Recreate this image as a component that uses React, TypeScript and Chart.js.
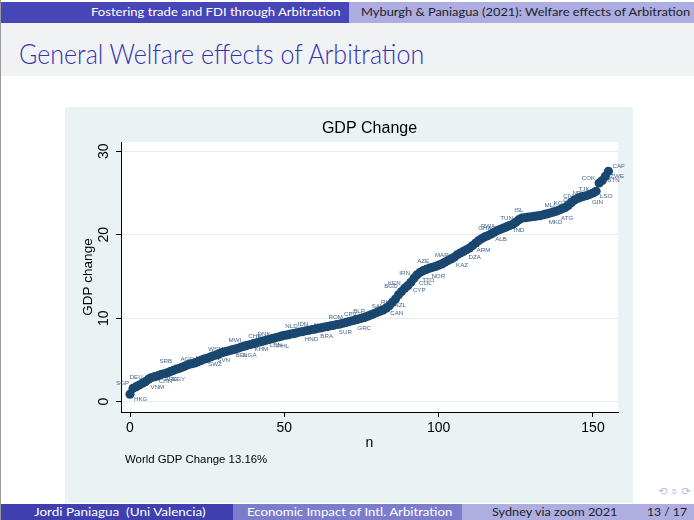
import React, { useEffect, useRef } from 'react';
import { Chart, registerables } from 'chart.js';

Chart.register(...registerables);

// ---- Data -------------------------------------------------------------
// GDP change (%) for each country, sorted; x = rank n (0..155)
const GDP_CHANGE: number[] = [
  0.9, 1.6, 1.8, 2.0, 2.2, 2.4, 2.7, 2.9, 3.0, 3.1,
  3.25, 3.35, 3.45, 3.6, 3.75, 3.9, 4.0, 4.15, 4.3, 4.45,
  4.55, 4.65, 4.8, 4.95, 5.1, 5.2, 5.35, 5.5, 5.6, 5.75,
  5.9, 6.0, 6.1, 6.2, 6.3, 6.4, 6.55, 6.65, 6.75, 6.85,
  6.95, 7.05, 7.15, 7.25, 7.35, 7.45, 7.55, 7.65, 7.75, 7.85,
  7.95, 8.0, 8.1, 8.15, 8.25, 8.35, 8.4, 8.5, 8.55, 8.65,
  8.7, 8.8, 8.85, 8.95, 9.0, 9.1, 9.15, 9.25, 9.3, 9.4,
  9.5, 9.6, 9.7, 9.8, 9.9, 10.0, 10.1, 10.25, 10.4, 10.55,
  10.7, 10.85, 11.0, 11.2, 11.5, 11.9, 12.3, 12.8, 13.2, 13.6,
  13.9, 14.3, 14.8, 15.2, 15.5, 15.7, 15.85, 16.0, 16.1, 16.2,
  16.35, 16.5, 16.7, 16.9, 17.1, 17.3, 17.6, 17.8, 18.0, 18.2,
  18.4, 18.7, 19.0, 19.3, 19.55, 19.75, 19.9, 20.1, 20.3, 20.5,
  20.65, 20.8, 20.95, 21.1, 21.25, 21.5, 21.8, 22.0, 22.05, 22.1,
  22.15, 22.2, 22.25, 22.3, 22.4, 22.5, 22.6, 22.7, 22.8, 22.95,
  23.1, 23.25, 23.5, 23.85, 24.15, 24.35, 24.5, 24.6, 24.7, 24.85,
  25.0, 25.2, 26.2, 26.5, 27.0, 27.6,
];

// country marker labels (rank index, ISO code, Stata clock position)
const LABEL_N: number[] = [
  0, 6, 1, 2, 8, 10, 13, 14, 16, 17,
  20, 25, 24, 27, 34, 38, 41, 33, 36, 39,
  44, 47, 50, 54, 56, 58, 61, 64, 67, 69,
  72, 73, 78, 81, 83, 84, 88, 89, 91, 92,
  93, 94, 95, 97, 101, 105, 109, 111, 115, 116,
  117, 122, 123, 126, 134, 135, 137, 139, 140, 142,
  143, 145, 149, 151, 152, 153, 154, 155,
];
const LABEL_TEXT: string[] = [
  'HKG', 'VNM', 'SGP', 'DEU', 'CHN', 'ARG', 'EGY', 'SRB', 'AGO', 'ITA',
  'MEX', 'WSM', 'SWZ', 'SVN', 'MWI', 'CHE', 'DNK', 'BEL', 'NGA', 'KHM',
  'LBN', 'PHL', 'NLD', 'IDN', 'HND', 'AUT', 'BRA', 'ROM', 'SUR', 'CPV',
  'BLR', 'GRC', 'SAU', 'RUS', 'CAN', 'NZL', 'BGD', 'KEN', 'CYP', 'IRN',
  'COL', 'TTO', 'AZE', 'NOR', 'MAR', 'KAZ', 'DZA', 'ARM', 'GHA', 'RWA',
  'ALB', 'TUN', 'IND', 'ISL', 'MLI', 'MKD', 'KGZ', 'ATG', 'GEO', 'CIV',
  'NPL', 'TJK', 'GIN', 'LSO', 'COK', 'BTN', 'ZWE', 'CAF',
];
const LABEL_POS: number[] = [
  4, 5, 10, 12, 4, 4, 5, 11, 1, 2,
  2, 1, 4, 4, 12, 1, 1, 4, 5, 4,
  4, 5, 1, 1, 5, 2, 5, 1, 5, 1,
  1, 5, 1, 1, 4, 3, 10, 10, 5, 10,
  5, 5, 12, 5, 12, 5, 5, 4, 12, 12,
  4, 12, 4, 12, 1, 5, 1, 5, 1, 12,
  1, 1, 5, 4, 10, 3, 3, 2,
];

const X_TICKS: number[] = [0, 50, 100, 150];
const Y_TICKS: number[] = [0, 10, 20, 30];

const CHART_TITLE = 'GDP Change';
const X_TITLE = 'n';
const Y_TITLE = 'GDP change';
const NOTE = 'World GDP Change 13.16%';

const HEADER_LEFT = 'Fostering trade and FDI through Arbitration';
const HEADER_RIGHT = 'Myburgh & Paniagua (2021): Welfare effects of Arbitration';
const FRAME_TITLE = 'General Welfare effects of Arbitration';
const FOOT_AUTHOR = 'Jordi Paniagua  (Uni Valencia)';
const FOOT_TITLE = 'Economic Impact of Intl. Arbitration';
const FOOT_DATE = 'Sydney via zoom 2021';
const FOOT_PAGE = '13 / 17';

// ---- Styles -----------------------------------------------------------
const STATA_FONT = '"Liberation Sans", Arial, sans-serif';
const SLIDE_FONT = 'Lato';
const NAVY = '#1A476F';

// clock position -> [dx, dy, align]
const CLOCK: Record<number, [number, number, CanvasTextAlign]> = {
  1: [1, -9, 'left'],
  2: [4, -5, 'left'],
  3: [5, 0, 'left'],
  4: [4, 5, 'left'],
  5: [2, 8, 'left'],
  6: [0, 9, 'center'],
  7: [-2, 8, 'right'],
  8: [-4, 5, 'right'],
  9: [-5, 0, 'right'],
  10: [-4, -5, 'right'],
  11: [-1, -9, 'right'],
  12: [0, -9, 'center'],
};

const measureCtx: CanvasRenderingContext2D | null =
  typeof document !== 'undefined' ? document.createElement('canvas').getContext('2d') : null;

type TxtProps = {
  text: string;
  cy: number;
  size: number;
  color: string;
  width?: number;
  left?: number;
  right?: number;
  center?: number;
  weight?: number;
  family?: string;
};

function Txt({ text, cy, size, color, width, left, right, center, weight = 400, family = SLIDE_FONT }: TxtProps) {
  let nat = text.length * size * 0.5;
  if (measureCtx) {
    measureCtx.font = `${weight} ${size}px ${family}`;
    nat = measureCtx.measureText(text).width;
  }
  const sx = width ? width / nat : 1;
  const w = nat * sx;
  let x = 0;
  if (left !== undefined) x = left;
  else if (right !== undefined) x = right - w;
  else if (center !== undefined) x = center - w / 2;
  return (
    <div
      style={{
        position: 'absolute',
        left: x,
        top: cy - size / 2,
        height: size,
        lineHeight: `${size}px`,
        fontSize: size,
        fontFamily: family,
        fontWeight: weight,
        color,
        whiteSpace: 'pre',
        transform: `scaleX(${sx})`,
        transformOrigin: '0 0',
      }}
    >
      {text}
    </div>
  );
}

function Box({ x, y, w, h, bg }: { x: number; y: number; w: number; h: number; bg: string }) {
  return <div style={{ position: 'absolute', left: x, top: y, width: w, height: h, background: bg }} />;
}

function GdpChart() {
  const ref = useRef<HTMLCanvasElement>(null);

  useEffect(() => {
    const canvas = ref.current;
    if (!canvas) return;
    const points = GDP_CHANGE.map((v, i) => ({ x: i, y: v }));

    const stataPlugin = {
      id: 'stataLook',
      beforeDraw(chart: any) {
        const { ctx, chartArea: a, width, height } = chart;
        ctx.save();
        ctx.fillStyle = '#EAF2F3';
        ctx.fillRect(0, 0, width, height);
        ctx.fillStyle = '#FFFFFF';
        ctx.fillRect(a.left, a.top, a.right - a.left, a.bottom - a.top);
        ctx.restore();
      },
      beforeDatasetsDraw(chart: any) {
        const { ctx } = chart;
        const meta = chart.getDatasetMeta(0);
        ctx.save();
        ctx.font = `6.2px ${STATA_FONT}`;
        ctx.fillStyle = '#44658A';
        ctx.textBaseline = 'middle';
        LABEL_N.forEach((n, k) => {
          const el = meta.data[n];
          if (!el) return;
          const [dx, dy, align] = CLOCK[LABEL_POS[k]] || CLOCK[3];
          ctx.textAlign = align;
          ctx.fillText(LABEL_TEXT[k], el.x + dx, el.y + dy);
        });
        ctx.restore();
      },
      afterDraw(chart: any) {
        const { ctx, chartArea: a } = chart;
        ctx.save();
        ctx.fillStyle = '#000000';
        ctx.textBaseline = 'middle';
        ctx.textAlign = 'center';
        ctx.font = `16px ${STATA_FONT}`;
        ctx.fillText(CHART_TITLE, (a.left + a.right) / 2, 22);
        ctx.textAlign = 'left';
        ctx.font = `11.4px ${STATA_FONT}`;
        ctx.fillText(NOTE, 60, 353);
        ctx.restore();
      },
    };

    const chart = new Chart(canvas, {
      type: 'scatter',
      data: {
        datasets: [
          {
            data: points,
            pointRadius: 4.6,
            pointHoverRadius: 4.6,
            pointBackgroundColor: NAVY,
            pointBorderColor: NAVY,
            pointBorderWidth: 0,
          },
        ],
      },
      options: {
        responsive: false,
        animation: false,
        events: [],
        layout: { padding: { left: 0, right: 15, top: 35, bottom: 0 } },
        plugins: {
          legend: { display: false },
          tooltip: { enabled: false },
          title: { display: false },
        },
        scales: {
          x: {
            type: 'linear',
            position: 'bottom',
            min: -2.916,
            max: 158.1,
            afterBuildTicks: (s: any) => {
              s.ticks = X_TICKS.map((value) => ({ value }));
            },
            afterFit: (s: any) => {
              s.height = 91;
            },
            grid: { drawOnChartArea: false, drawTicks: true, tickLength: 5, tickColor: '#000', tickWidth: 1 },
            border: { display: true, color: '#000', width: 1 },
            ticks: {
              font: { family: STATA_FONT, size: 14 },
              color: '#000',
              padding: 3,
              maxRotation: 0,
              autoSkip: false,
            },
            title: {
              display: true,
              text: X_TITLE,
              font: { family: STATA_FONT, size: 14 },
              color: '#000',
              padding: { top: 0, bottom: 51.6 },
            },
          },
          y: {
            type: 'linear',
            min: -1.234,
            max: 31.11,
            afterBuildTicks: (s: any) => {
              s.ticks = Y_TICKS.map((value) => ({ value }));
            },
            afterFit: (s: any) => {
              s.width = 56;
            },
            grid: { color: '#E3ECEF', lineWidth: 1, tickColor: '#000', tickLength: 5, tickWidth: 1 },
            border: { display: true, color: '#000', width: 1 },
            ticks: {
              font: { family: STATA_FONT, size: 14 },
              color: '#000',
              padding: 4.2,
              minRotation: 90,
              maxRotation: 90,
              crossAlign: 'center',
              autoSkip: false,
            },
            title: {
              display: true,
              text: Y_TITLE,
              font: { family: STATA_FONT, size: 13.5 },
              color: '#000',
              padding: { top: 14.9, bottom: 0 },
            },
          },
        },
      },
      plugins: [stataPlugin],
    } as any);

    return () => chart.destroy();
  }, []);

  return (
    <canvas
      ref={ref}
      width={568}
      height={396}
      style={{ position: 'absolute', left: 65, top: 107, width: 568, height: 396, display: 'block' }}
    />
  );
}

export default function App() {
  return (
    <div
      style={{
        position: 'fixed',
        left: 0,
        top: 0,
        width: 694,
        height: 520,
        background: '#FFFFFF',
        overflow: 'hidden',
      }}
    >
      {/* header */}
      <Box x={0} y={2} w={349} h={21} bg="#4646B6" />
      <Box x={349} y={2} w={345} h={21} bg="#ADADE1" />
      <Txt text={HEADER_LEFT} right={341} width={250} cy={12.5} size={10.5} color="#FFFFFF" />
      <Txt text={HEADER_RIGHT} left={361} width={330} cy={12.5} size={10.5} color="#1E1E2A" />

      {/* frame title */}
      <Box x={0} y={23} w={694} h={53} bg="#F1F2F4" />
      <Txt text={FRAME_TITLE} left={19} width={407} cy={52.7} size={28} weight={300} color="#3333B3" />

      {/* chart */}
      <GdpChart />

      {/* navigation symbols */}
      <Txt text="⟲ ⌕ ⟳" left={658} width={33} cy={491} size={11} family='"DejaVu Sans"' color="#BDBDE0" />

      {/* footer */}
      <Box x={0} y={504} w={233} h={16} bg="#3F3FB0" />
      <Box x={233} y={504} w={229} h={16} bg="#7C7CCD" />
      <Box x={462} y={504} w={232} h={16} bg="#AEAEE1" />
      <Txt text={FOOT_AUTHOR} left={34} width={172} cy={512} size={10.5} color="#FFFFFF" />
      <Txt text={FOOT_TITLE} left={247} width={206} cy={512} size={10.5} color="#FFFFFF" />
      <Txt text={FOOT_DATE} left={492} width={126} cy={512} size={10.5} color="#1E1E2A" />
      <Txt text={FOOT_PAGE} left={647} width={40} cy={512} size={10.5} color="#1E1E2A" />

      {/* frame edge */}
      <Box x={0} y={0} w={1} h={520} bg="#9A9A9A" />
    </div>
  );
}
